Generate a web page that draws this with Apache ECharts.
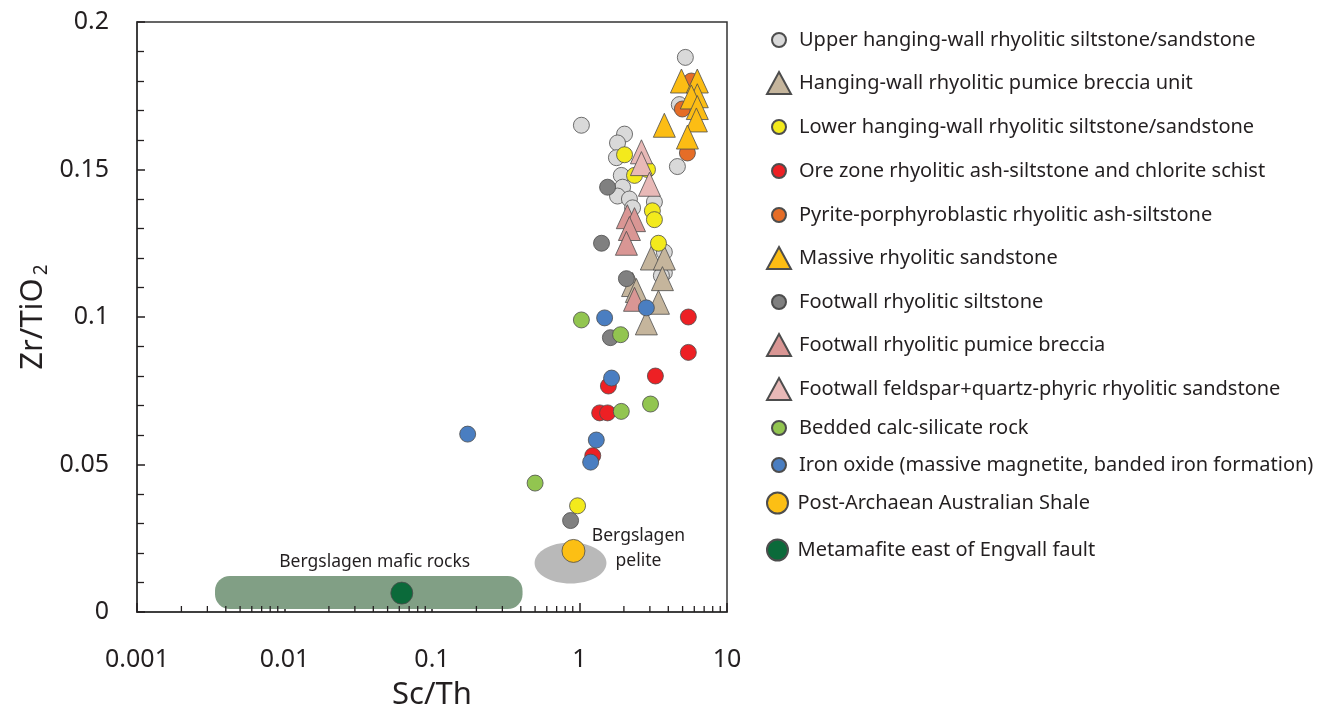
<!DOCTYPE html>
<html><head><meta charset="utf-8">
<script src="https://cdn.jsdelivr.net/npm/echarts@6/dist/echarts.min.js"></script>
<style>html,body{margin:0;padding:0;background:#fff}#c{width:1324px;height:712px}</style>
</head><body><div id="c"></div>
<script>
// ---- data (Sc/Th, Zr/TiO2) ----
const upperHangingWall = [[5.22,0.188],[1.03,0.165],[2.02,0.162],[1.81,0.159],[4.75,0.172],[4.61,0.151],[1.78,0.154],[1.92,0.148],[1.96,0.144],[1.81,0.141],[2.18,0.140],[2.29,0.137],[3.22,0.139],[3.76,0.122],[3.76,0.115],[3.59,0.114]];
const hangingWallPumice = [[3.07,0.120],[3.76,0.120],[3.65,0.113],[2.29,0.111],[2.43,0.109],[3.43,0.105],[2.84,0.098]];
const lowerHangingWall = [[2.02,0.155],[2.36,0.148],[2.89,0.150],[3.12,0.136],[3.22,0.133],[3.43,0.125],[0.97,0.036]];
const oreZone = [[5.47,0.100],[5.47,0.088],[3.27,0.080],[1.57,0.0766],[1.37,0.0675],[1.55,0.0675],[1.23,0.053]];
const pyriteAsh = [[5.73,0.180],[4.98,0.1705],[5.39,0.1556]];
const massiveSandstone = [[4.91,0.180],[6.29,0.180],[6.29,0.175],[5.73,0.1746],[6.29,0.171],[6.2,0.1668],[3.76,0.165],[5.39,0.161]];
const footwallSiltstone = [[1.55,0.144],[1.41,0.125],[2.08,0.113],[1.62,0.093],[0.87,0.031]];
const footwallPumice = [[2.11,0.134],[2.36,0.133],[2.18,0.130],[2.08,0.125],[2.36,0.106]];
const footwallFeldspar = [[2.63,0.156],[2.63,0.152],[2.98,0.145]];
const calcSilicate = [[1.03,0.099],[1.90,0.094],[3.03,0.0705],[1.92,0.068],[0.50,0.0437]];
const ironOxide = [[1.48,0.0997],[2.84,0.1031],[1.65,0.0793],[1.30,0.0583],[1.19,0.0508],[0.1745,0.0603]];
const paas = [[0.91,0.0207]];
const metamafite = [[0.0624,0.0064]];

// reference fields [xMin, yMin, xMax, yMax]
const maficField = [[0.00338,0.0010,0.411,0.0122]];
const peliteField = [[0.496,0.0097,1.523,0.0236]];
const fieldLabels = [
  [0.0409,0.0169,'Bergslagen mafic rocks'],
  [2.51,0.0258,'Bergslagen'],
  [2.51,0.0173,'pelite']
];
const xMinorTicks = [0.002,0.003,0.004,0.005,0.006,0.007,0.008,0.009,0.02,0.03,0.04,0.05,0.06,0.07,0.08,0.09,0.2,0.3,0.4,0.5,0.6,0.7,0.8,0.9,2,3,4,5,6,7,8,9];

const seriesNames = [
  'Upper hanging-wall rhyolitic siltstone/sandstone',
  'Hanging-wall rhyolitic pumice breccia unit',
  'Lower hanging-wall rhyolitic siltstone/sandstone',
  'Ore zone rhyolitic ash-siltstone and chlorite schist',
  'Pyrite-porphyroblastic rhyolitic ash-siltstone',
  'Massive rhyolitic sandstone',
  'Footwall rhyolitic siltstone',
  'Footwall rhyolitic pumice breccia',
  'Footwall feldspar+quartz-phyric rhyolitic sandstone',
  'Bedded calc-silicate rock',
  'Iron oxide (massive magnetite, banded iron formation)',
  'Post-Archaean Australian Shale',
  'Metamafite east of Engvall fault'
];
const seriesData = [upperHangingWall,hangingWallPumice,lowerHangingWall,oreZone,pyriteAsh,massiveSandstone,footwallSiltstone,footwallPumice,footwallFeldspar,calcSilicate,ironOxide,paas,metamafite];

// styles
const styles = [
  {sym:'circle', size:16, color:'#d9d9d9', li:14},
  {sym:'triangle', size:[22,24], color:'#c5b59c', li:22},
  {sym:'circle', size:16, color:'#f3ea1c', li:14},
  {sym:'circle', size:16, color:'#ed2024', li:14},
  {sym:'circle', size:16, color:'#e56d27', li:14},
  {sym:'triangle', size:[22,24], color:'#fcbd14', li:22},
  {sym:'circle', size:16, color:'#808080', li:14},
  {sym:'triangle', size:[22,24], color:'#d99694', li:22},
  {sym:'triangle', size:[22,24], color:'#e8b9b7', li:22},
  {sym:'circle', size:16, color:'#92c550', li:14},
  {sym:'circle', size:16, color:'#4a7ec1', li:14},
  {sym:'circle', size:23, color:'#fcbf14', li:21},
  {sym:'circle', size:22, color:'#0b6a3a', li:21}
];
const legendY = [35,78,122,166,210,253,297,340,384,423,460,498,545];

const FONT = 'Noto Sans';
const TXT = '#231f20';

const series = [];
series.push({
  type:'custom', name:'maficField', data:maficField, z:1, silent:true,
  encode:{x:[0,2], y:[1,3]},
  renderItem:function(params, api){
    const p0 = api.coord([api.value(0), api.value(1)]);
    const p1 = api.coord([api.value(2), api.value(3)]);
    const h = p0[1]-p1[1];
    return {type:'rect', shape:{x:p0[0], y:p1[1], width:p1[0]-p0[0], height:h, r:h*0.45}, style:{fill:'#819f85'}};
  }
});
series.push({
  type:'custom', name:'peliteField', data:peliteField, z:1, silent:true,
  encode:{x:[0,2], y:[1,3]},
  renderItem:function(params, api){
    const p0 = api.coord([api.value(0), api.value(1)]);
    const p1 = api.coord([api.value(2), api.value(3)]);
    return {type:'ellipse', shape:{cx:(p0[0]+p1[0])/2, cy:(p0[1]+p1[1])/2, rx:(p1[0]-p0[0])/2, ry:(p0[1]-p1[1])/2}, style:{fill:'#b9b9b9'}};
  }
});
series.push({
  type:'custom', name:'fieldLabels', data:fieldLabels, z:2, silent:true,
  encode:{x:0, y:1},
  renderItem:function(params, api){
    const p = api.coord([api.value(0), api.value(1)]);
    return {type:'text', x:p[0], y:p[1], style:{text:fieldLabels[params.dataIndex][2], fill:TXT, font:'17.5px "'+FONT+'"', align:'center', verticalAlign:'middle'}};
  }
});
series.push({
  type:'custom', name:'xMinor', data:xMinorTicks.map(v=>[v,0]), z:3, silent:true,
  encode:{x:0, y:1},
  renderItem:function(params, api){
    const p = api.coord([api.value(0), 0]);
    return {type:'line', shape:{x1:p[0], y1:p[1], x2:p[0], y2:p[1]-6}, style:{stroke:'#231f20', lineWidth:1.3}};
  }
});
seriesNames.forEach((n,i)=>{
  const s = styles[i];
  series.push({
    type:'scatter', name:n, data:seriesData[i], symbol:s.sym, symbolSize:s.size, z:10+i,
    itemStyle:{color:s.color, borderColor:'#4d4d4d', borderWidth:0.8, opacity:1},
    emphasis:{disabled:true}
  });
});

const legends = seriesNames.map((n,i)=>({
  data:[n], left: styles[i].li > 16 ? 761 : 766, top:legendY[i]-12, orient:'horizontal',
  itemWidth:24, itemHeight:styles[i].li, selectedMode:false,
  icon: styles[i].sym,
  textStyle:{fontFamily:FONT, fontSize:20, color:TXT, lineHeight:24, padding:[0,0,0,3]}
}));

const chart = echarts.init(document.getElementById('c'), null, {renderer:'canvas'});
chart.setOption({
  animation:false,
  backgroundColor:'#fff',
  grid:{left:137, right:597, top:22, bottom:100, containLabel:false, outerBoundsMode:'none', show:true, borderColor:'#333', borderWidth:1.5, backgroundColor:'transparent'},
  xAxis:{
    type:'log', logBase:10, min:0.001, max:10,
    name:'Sc/Th', nameLocation:'middle', nameGap:68,
    nameTextStyle:{fontFamily:FONT, fontSize:31, color:TXT},
    axisLine:{lineStyle:{color:'#333', width:1.5}},
    axisTick:{inside:true, length:9, lineStyle:{color:'#231f20', width:1.5}},
    axisLabel:{fontFamily:FONT, fontSize:25, color:TXT, margin:35,
      formatter:function(v){return String(+v.toPrecision(3));}},
    splitLine:{show:false}
  },
  yAxis:{
    type:'value', min:0, max:0.2, interval:0.05,
    name:'Zr/TiO{sub|2}', nameLocation:'middle', nameGap:86, nameRotate:90,
    nameTextStyle:{fontFamily:FONT, fontSize:31, color:TXT, rich:{sub:{fontFamily:FONT, fontSize:19, color:TXT, verticalAlign:'bottom', padding:[16,0,0,3]}}},
    axisLine:{lineStyle:{color:'#333', width:1.5}},
    axisTick:{inside:true, length:8, lineStyle:{color:'#231f20', width:1.5}},
    minorTick:{show:true, splitNumber:5, length:7, lineStyle:{color:'#231f20', width:1.3}},
    axisLabel:{fontFamily:FONT, fontSize:25, color:TXT, margin:28},
    splitLine:{show:false}
  },
  legend:legends,
  series:series
});
</script>
</body></html>
